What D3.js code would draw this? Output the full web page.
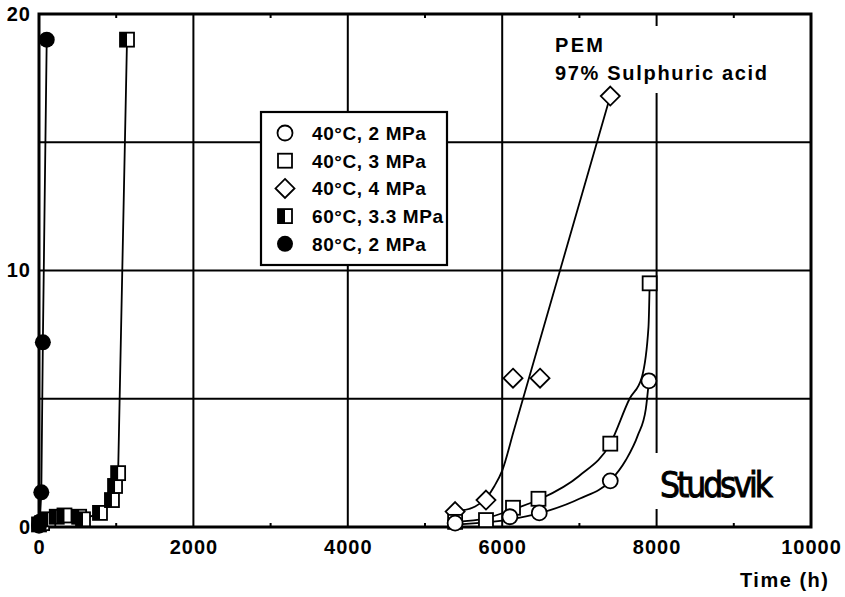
<!DOCTYPE html>
<html>
<head>
<meta charset="utf-8">
<script src="https://cdn.jsdelivr.net/npm/d3@7"></script>
<style>
  body { margin: 0; background: #fff; }
  text { font-family: "Liberation Sans", Arial, sans-serif; font-weight: bold; fill: #000; }
</style>
</head>
<body>
<div id="chart"></div>
<script>
// axis ticks
var xTicks = [0, 2000, 4000, 6000, 8000, 10000];
var xMinor = [1000, 3000, 5000, 7000, 9000];
var yLabels = [0, 10, 20];
var yGrid = [5, 10, 15];

// measured points: time (h) and value
var s40_2_t = [5390, 6100, 6480, 7400, 7900];
var s40_2_v = [0.15, 0.4, 0.55, 1.8, 5.7];
var s40_3_t = [5390, 5790, 6140, 6470, 7400, 7910];
var s40_3_v = [0.2, 0.27, 0.75, 1.1, 3.25, 9.5];
var s40_4_t = [5390, 5790, 6140, 6490, 7400];
var s40_4_v = [0.6, 1.05, 5.8, 5.8, 16.8];
var s60_t = [0, 40, 120, 230, 330, 520, 570, 790, 945, 985, 1025, 1140];
var s60_v = [0.1, 0.15, 0.3, 0.4, 0.45, 0.4, 0.3, 0.55, 1.05, 1.6, 2.1, 19];
var s80_t = [0, 10, 30, 50, 100];
var s80_v = [0.05, 0.2, 1.35, 7.2, 19];

// hand drawn trend curves of the 40°C series
var fit2_t = [5390, 6000, 6500, 7000, 7400, 7600, 7760, 7860, 7900];
var fit2_v = [0.1, 0.25, 0.55, 1.1, 1.8, 2.6, 3.6, 4.6, 5.7];
var fit3_t = [5390, 5800, 6150, 6500, 7000, 7400, 7650, 7810, 7895, 7910];
var fit3_v = [0.2, 0.35, 0.7, 1.1, 2.0, 3.25, 5.0, 5.85, 7.8, 9.5];
var fit4_t = [5390, 5650, 5800, 5900, 6000, 6150, 7400];
var fit4_v = [0.6, 0.8, 1.15, 1.6, 2.2, 3.75, 16.8];

var legendLabels = ["40°C, 2 MPa", "40°C, 3 MPa", "40°C, 4 MPa", "60°C, 3.3 MPa", "80°C, 2 MPa"];
var legendKinds = ["circle", "square", "diamond", "half", "dot"];

function pts(t, v) { return t.map(function(d, i) { return [d, v[i]]; }); }

var W = 845, H = 597;
var pL = 39, pR = 811, pT = 14, pB = 527;

var x = d3.scaleLinear().domain([0, 10000]).range([pL, pR]);
var y = d3.scaleLinear().domain([0, 20]).range([pB, pT]);

var svg = d3.select("#chart").append("svg")
  .attr("width", W)
  .attr("height", H);

// grid lines
var grid = svg.append("g");
grid.selectAll(".vg").data(xTicks.slice(1, -1)).enter().append("line")
  .attr("x1", function(d) { return x(d); }).attr("x2", function(d) { return x(d); })
  .attr("y1", pT).attr("y2", pB)
  .attr("stroke", "#000").attr("stroke-width", 2);
grid.selectAll(".hg").data(yGrid).enter().append("line")
  .attr("x1", pL).attr("x2", pR)
  .attr("y1", function(d) { return y(d); }).attr("y2", function(d) { return y(d); })
  .attr("stroke", "#000").attr("stroke-width", 2);

// minor ticks top and bottom
xMinor.forEach(function(d) {
  grid.append("line").attr("x1", x(d)).attr("x2", x(d)).attr("y1", pT).attr("y2", pT + 4)
    .attr("stroke", "#000").attr("stroke-width", 2);
  grid.append("line").attr("x1", x(d)).attr("x2", x(d)).attr("y1", pB).attr("y2", pB - 4)
    .attr("stroke", "#000").attr("stroke-width", 2);
});

// white backing behind the annotations (they break the grid)
svg.append("rect").attr("x", 545).attr("y", 26).attr("width", 232).attr("height", 67).attr("fill", "#fff");
svg.append("rect").attr("x", 652).attr("y", 453).attr("width", 128).attr("height", 56).attr("fill", "#fff");

// frame
svg.append("rect")
  .attr("x", pL).attr("y", pT)
  .attr("width", pR - pL).attr("height", pB - pT)
  .attr("fill", "none").attr("stroke", "#000").attr("stroke-width", 3);

// axis labels
var xAxis = svg.append("g")
  .attr("transform", "translate(0," + pB + ")")
  .call(d3.axisBottom(x).tickValues(xTicks).tickSize(0).tickPadding(13).tickFormat(d3.format("d")));
xAxis.select(".domain").remove();
xAxis.selectAll("text")
  .style("font-family", '"Liberation Sans", Arial, sans-serif')
  .style("font-weight", "bold").style("font-size", "20px").style("letter-spacing", "1px")
  .attr("fill", "#000");

var yAxis = svg.append("g")
  .attr("transform", "translate(" + pL + ",0)")
  .call(d3.axisLeft(y).tickValues(yLabels).tickSize(0).tickPadding(8));
yAxis.select(".domain").remove();
yAxis.selectAll("text")
  .style("font-family", '"Liberation Sans", Arial, sans-serif')
  .style("font-weight", "bold").style("font-size", "20px").style("letter-spacing", "1px")
  .attr("fill", "#000");

svg.append("text").attr("x", 740).attr("y", 587)
  .attr("font-size", "20px").attr("textLength", 88).text("Time (h)");

// curves
var line = d3.line().x(function(d) { return x(d[0]); }).y(function(d) { return y(d[1]); });
var smooth = d3.line().curve(d3.curveMonotoneX)
  .x(function(d) { return x(d[0]); }).y(function(d) { return y(d[1]); });

var curves = svg.append("g").attr("fill", "none").attr("stroke", "#000").attr("stroke-width", 1.8);
curves.append("path").attr("d", smooth(pts(fit2_t, fit2_v)));
curves.append("path").attr("d", smooth(pts(fit3_t, fit3_v)));
curves.append("path").attr("d", smooth(pts(fit4_t, fit4_v)));
curves.append("path").attr("d", line(pts(s60_t, s60_v)));
curves.append("path").attr("d", line(pts(s80_t, s80_v)));

// markers
function marker(g, kind) {
  if (kind === "circle") {
    g.append("circle").attr("r", 7.5).attr("fill", "#fff").attr("stroke", "#000").attr("stroke-width", 1.8);
  } else if (kind === "square") {
    g.append("rect").attr("x", -7).attr("y", -7).attr("width", 14).attr("height", 14)
      .attr("fill", "#fff").attr("stroke", "#000").attr("stroke-width", 1.8);
  } else if (kind === "diamond") {
    g.append("path").attr("d", "M0,-9.5L9.5,0L0,9.5L-9.5,0Z")
      .attr("fill", "#fff").attr("stroke", "#000").attr("stroke-width", 1.8);
  } else if (kind === "half") {
    g.append("rect").attr("x", -7).attr("y", -7).attr("width", 14).attr("height", 14)
      .attr("fill", "#fff").attr("stroke", "#000").attr("stroke-width", 1.8);
    g.append("rect").attr("x", -7).attr("y", -7).attr("width", 7).attr("height", 14).attr("fill", "#000");
  } else {
    g.append("circle").attr("r", 8).attr("fill", "#000");
  }
}

function drawSeries(t, v, kind) {
  svg.append("g").selectAll("g").data(pts(t, v)).enter().append("g")
    .attr("transform", function(d) { return "translate(" + x(d[0]) + "," + y(d[1]) + ")"; })
    .each(function() { marker(d3.select(this), kind); });
}
drawSeries(s60_t, s60_v, "half");
drawSeries(s80_t, s80_v, "dot");
drawSeries(s40_4_t, s40_4_v, "diamond");
drawSeries(s40_3_t, s40_3_v, "square");
drawSeries(s40_2_t, s40_2_v, "circle");

// legend
var lg = svg.append("g");
lg.append("rect").attr("x", 261).attr("y", 112).attr("width", 186).attr("height", 153)
  .attr("fill", "#fff").attr("stroke", "#000").attr("stroke-width", 2.2);
legendLabels.forEach(function(lab, i) {
  var cy = 133 + i * 27.7;
  var g = lg.append("g").attr("transform", "translate(285," + cy + ")");
  marker(g, legendKinds[i]);
  lg.append("text").attr("x", 312).attr("y", cy + 7)
    .attr("font-size", "19px").style("letter-spacing", "0.6px").text(lab);
});

// annotations
svg.append("text").attr("x", 555).attr("y", 52).attr("font-size", "20px").attr("textLength", 48).text("PEM");
svg.append("text").attr("x", 555).attr("y", 80).attr("font-size", "20px").attr("textLength", 212).text("97% Sulphuric acid");
svg.append("text").attr("x", 660).attr("y", 497)
  .style("font-family", '"Liberation Sans Narrow", "DejaVu Sans Condensed", sans-serif')
  .style("font-weight", "normal").attr("font-size", "35px").attr("textLength", 113)
  .attr("stroke", "#000").attr("stroke-width", 0.9)
  .text("Studsvik");
</script>
</body>
</html>
